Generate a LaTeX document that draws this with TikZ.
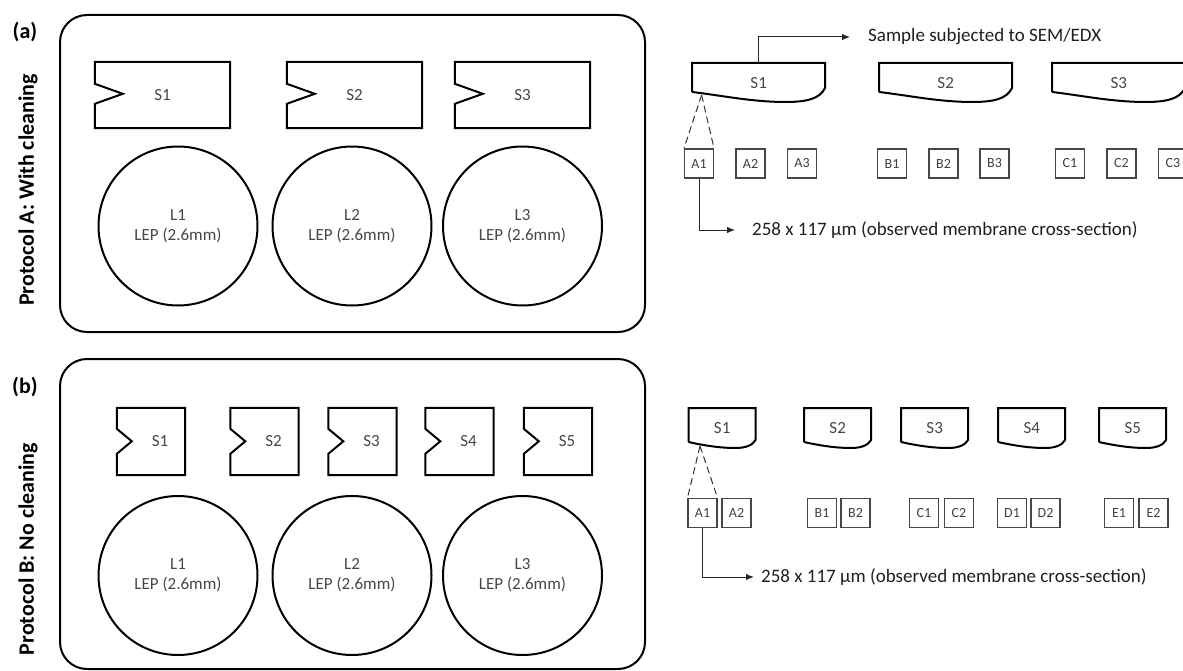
\documentclass[tikz,border=0pt]{standalone}
\usepackage{fontspec}
\setmainfont{Carlito}
\usetikzlibrary{arrows.meta,calc}
\tikzset{
  panel/.style={draw, line width=2pt, rounded corners=27pt},
  outline/.style={line width=2pt, line join=miter},
  lbl/.style={font=\fontsize{17}{20}\selectfont, text=black!72, inner sep=0pt},
  smallbox/.style={draw=black!72, line width=1.1pt, minimum width=29pt, minimum height=29pt, inner sep=0pt, font=\fontsize{14}{16}\selectfont, text=black!75},
  note/.style={font=\fontsize{19}{22}\selectfont, anchor=west, inner sep=0pt, text=black!88},
  arr/.style={line width=1pt, draw=black!85, -{Latex[length=8pt,width=6.5pt]}},
  dashline/.style={line width=1pt, draw=black!80, dash pattern=on 7pt off 4pt},
  disc/.style={circle, draw, line width=2pt, minimum size=159pt, inner sep=0pt, align=center, font=\fontsize{17}{20}\selectfont, text=black!72},
  side/.style={font=\bfseries\fontsize{22}{24}\selectfont, inner sep=0pt},
}
% piece: name, left, top, width, left height, lowest, right height, label
\newcommand\piece[8]{%
  \node[lbl, minimum width=#4pt, minimum height=#6pt, anchor=north west] (#1) at (#2,#3) {#8};
  \draw[outline] ({#2},{#3+#5}) -- (#2,#3) -- ({#2+#4},#3) -- ({#2+#4},{#3+#7})
    .. controls ({#2+0.96*#4},{#3+#6-3}) and ({#2+0.86*#4},{#3+#6}) .. ({#2+0.7*#4},{#3+#6})
    .. controls ({#2+0.45*#4},{#3+#6}) and ({#2+0.2*#4},{#3+#5+3}) .. ({#2},{#3+#5});
}
% notched sample: name, cx, cy, width, height, notch top, tip depth, notch bottom, label
\newcommand\notched[9]{%
  \node[lbl, minimum width=#4pt, minimum height=#5pt] (#1) at (#2,#3) {#9};
  \draw[outline] (#1.north west) -- (#1.north east) -- (#1.south east) -- (#1.south west)
    -- ($(#1.north west)+(0,#8)$) -- ($(#1.north west)+(#7,{(#6+#8)/2})$)
    -- ($(#1.north west)+(0,#6)$) -- cycle;
}
\begin{document}
\begin{tikzpicture}[x=1pt,y=-1pt]
\useasboundingbox (0,0) rectangle (1183,671);
% ---------------- panel (a) ----------------
\draw[panel] (60,15) rectangle (645,332);
\node[side] (la) at (25,32) {(a)};
\node[side, rotate=90] (pa) at (28,190) {Protocol A: With cleaning};
\notched{nA1}{162.5}{95}{135}{66}{22}{28}{42}{S1}
\notched{nA2}{354.5}{95}{135}{66}{22}{28}{42}{S2}
\notched{nA3}{522.5}{95}{135}{66}{22}{28}{42}{S3}
\node[disc] (cA1) at (178,226) {L1\\LEP (2.6mm)};
\node[disc] (cA2) at (352,226) {L2\\LEP (2.6mm)};
\node[disc] (cA3) at (522.5,226) {L3\\LEP (2.6mm)};
% right (a)
\piece{aS1}{692}{63}{133}{29}{39}{25}{S1}
\piece{aS2}{879}{63}{133}{29}{39}{25}{S2}
\piece{aS3}{1052}{63}{133}{29}{39}{25}{S3}
\foreach \nm/\x in {A1/699,A2/750.5,A3/802,B1/892,B2/943.5,B3/994.5,C1/1070,C2/1121.5,C3/1173}
  \node[smallbox] (s\nm) at (\x,163.5) {\nm};
\node[note] (sem) at (868,37) {Sample subjected to SEM/EDX};
\draw[arr, shorten >=18pt] (aS1.north) |- (sem.west);
\coordinate (apA) at (701.6,95);
\draw[dashline] (apA) -- (sA1.north west);
\draw[dashline] (apA) -- (sA1.north east);
\node[note] (memA) at (752,230) {258 x 117 µm (observed membrane cross-section)};
\draw[arr, shorten >=17pt] (sA1.south) |- (memA.west);
% ---------------- panel (b) ----------------
\draw[panel] (60,359) rectangle (645,669);
\node[side] (lb) at (25,387) {(b)};
\node[side, rotate=90] (pb) at (28,549) {Protocol B: No cleaning};
\notched{nB1}{151}{441.5}{68}{67}{21}{15}{46}{\hspace*{18pt}S1}
\notched{nB2}{264.5}{441.5}{68}{67}{21}{15}{46}{\hspace*{18pt}S2}
\notched{nB3}{362.5}{441.5}{68}{67}{21}{15}{46}{\hspace*{18pt}S3}
\notched{nB4}{459.5}{441.5}{68}{67}{21}{15}{46}{\hspace*{18pt}S4}
\notched{nB5}{558}{441.5}{68}{67}{21}{15}{46}{\hspace*{18pt}S5}
\node[disc] (cB1) at (178,575.5) {L1\\LEP (2.6mm)};
\node[disc] (cB2) at (352,575.5) {L2\\LEP (2.6mm)};
\node[disc] (cB3) at (522.5,575.5) {L3\\LEP (2.6mm)};
% right (b)
\piece{bS1}{688.5}{408}{67}{34}{40}{32}{S1}
\piece{bS2}{804}{408}{67}{34}{40}{32}{S2}
\piece{bS3}{901}{408}{67}{34}{40}{32}{S3}
\piece{bS4}{998}{408}{67}{34}{40}{32}{S4}
\piece{bS5}{1099}{408}{67}{34}{40}{32}{S5}
\foreach \nm/\x in {A1/702.5,A2/736.5,B1/822,B2/855.5,C1/924,C2/959,D1/1012,D2/1045.5,E1/1119,E2/1153.5}
  \node[smallbox] (t\nm) at (\x,513) {\nm};
\coordinate (apB) at (700,446);
\draw[dashline] (apB) -- (tA1.north west);
\draw[dashline] (apB) -- (tA1.north east);
\node[note] (memB) at (761,577) {258 x 117 µm (observed membrane cross-section)};
\draw[arr, shorten >=7pt] (tA1.south) |- (memB.west);
\end{tikzpicture}
\end{document}
